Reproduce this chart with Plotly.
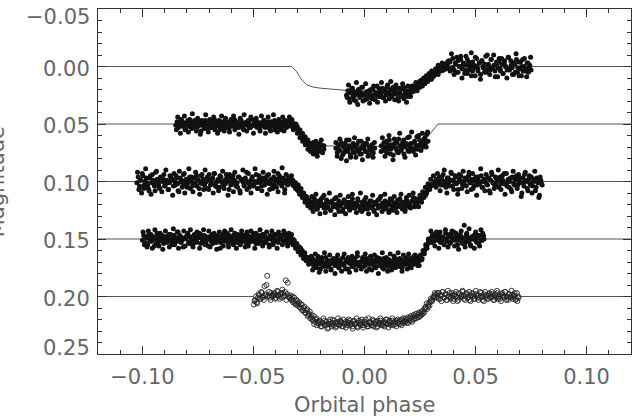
import numpy as np
import plotly.graph_objects as go

# ---------------- axis ticks ----------------
x_tick_vals = [-0.10, -0.05, 0.00, 0.05, 0.10]
x_tick_text = ["\u22120.10", "\u22120.05", "0.00", "0.05", "0.10"]
y_tick_vals = [-0.05, 0.00, 0.05, 0.10, 0.15, 0.20, 0.25]
y_tick_text = ["\u22120.05", "0.00", "0.05", "0.10", "0.15", "0.20", "0.25"]
x_range = [-0.12, 0.12]
y_range = [0.25, -0.05]

# ---------------- light curve 1 (offset 0.00), two runs ----------------
c1_phase_a = (-0.0081, 0.0750)
c1_mmag_a = [
    25, 21, 28, 23, 19, 26, 22, 30, 24, 20, 27, 23, 18, 25, 29, 22, 26, 21, 24, 28,
    20, 25, 23, 17, 26, 22, 24, 19, 27, 21, 25, 16, 23, 20, 26, 18, 22, 24, 19, 27,
    23, 20, 25, 18, 24, 22, 26, 21,
    23, 19, 21, 17, 20, 15, 18, 13, 16, 14, 11, 15, 9, 12, 10, 7, 11, 5, 8, 6,
    3, 7, 2, 4, 0, 3, -1, 2, -2,
    2, -4, 1, -7, 3, -2, 5, -5, 0, -9, 2, -3, 6, -1, -6, 3, -2, 8, -4, 1,
    -8, 0, 4, -3, 7, -5, 1, -2, 5, -10, 0, 3, -6, 2, -1, 9, -4, 1, -7, 4,
    -2, 6, -5, 0, 3, -8, 2, -1, 7, -3, 5, -6, 1, 8, -4, 0, 4, -7, 2, -3,
    5, -1, 3,
]
c1_phase_b = (-0.0078, 0.0748)
c1_mmag_b = [
    27, 16, 31, 22, 19, 29, 25, 14, 33, 21, 26, 18, 30, 24, 15, 28, 22, 32, 20, 25,
    17, 29, 23, 31, 19, 26, 14, 27, 22, 30, 18, 24, 28, 13, 25, 21, 29, 16, 23, 30,
    19, 26, 15, 28, 21, 31, 17, 24,
    26, 17, 22, 19, 14, 21, 16, 18, 12, 17, 10, 14, 8, 13, 6, 11, 4, 9, 7, 2,
    6, -1, 4, 1, -3, 3, -2, 1, -4,
    -5, 4, -11, 1, 7, -3, -8, 5, 0, -6, 10, -2, 3, -9, 6, -4, 1, -12, 4, -1,
    8, -7, 2, -3, 11, -5, 0, 5, -9, 3, -2, 7, -6, 1, -10, 4, -1, 9, -4, 2,
    -7, 6, -3, 0, 10, -8, 3, -5, 1, 7, -2, -11, 5, -4, 2, 8, -6, 0, 4, 9,
    -3, 1, -8,
]
c1_model_phase = [-0.12, -0.0328, -0.0306, -0.0283, -0.026, -0.0231, -0.0201, -0.0081,
                  0.005, 0.018, 0.024, 0.029, 0.034, 0.038, 0.12]
c1_model_mag = [0.0, 0.0, 0.0043, 0.0116, 0.0159, 0.0179, 0.0188, 0.0208,
                0.0215, 0.020, 0.014, 0.007, 0.002, 0.0, 0.0]

# ---------------- light curve 2 (offset 0.05), two runs ----------------
c2_phase_a = (-0.0850, 0.0286)
c2_mmag_a = [
    51, 48, 53, 50, 46, 52, 49, 55, 50, 47, 52, 49, 54, 51, 47, 50, 53, 48, 51, 56,
    49, 52, 47, 50, 54, 51, 48, 53, 50, 46, 52, 49, 51, 55, 48, 50, 53, 47, 51, 49,
    54, 50, 48, 52, 46, 51, 49, 53, 50, 47, 52, 55, 49, 51, 48, 50, 53, 46, 51, 49,
    52, 48, 50, 54, 49, 51, 47, 53, 50, 48, 52, 56, 49, 51, 47, 50, 53, 49, 51, 55,
    48, 51, 49, 53, 50,
    47, 49, 46, 51, 50, 54, 52, 57, 55, 60, 58, 63, 61, 66, 64, 69, 67,
    70, 66, 73, 68, 75, 71, 67, 74, 69, 72,
    None, None, None, None, None, None, None, None,
    71, 75, 68, 73, 66, 77, 70, 72, 64, 74, 69, 79, 71, 67, 75, 70, 73, 65, 72, 76,
    69, 71, 74, 67, 78, 70, 73, 68, 75, 71,
    None, None, None, None,
    69, 73, 66, 71, 75, 68, 64, 72, 70, 77, 67, 71, 74, 63, 69, 72, 66, 76, 70, 68,
    73, 61, 67, 71, 74, 65, 69, 72, 60, 68, 66, 70, 63, 67, 59, 65,
]
c2_phase_b = (-0.0847, 0.0284)
c2_mmag_b = [
    55, 44, 52, 58, 47, 50, 43, 54, 49, 57, 46, 52, 41, 53, 48, 56, 45, 51, 59, 47,
    50, 54, 42, 49, 57, 46, 53, 51, 44, 55, 48, 58, 47, 52, 43, 50, 56, 45, 53, 49,
    57, 46, 51, 43, 55, 48, 52, 59, 45, 50, 54, 42, 49, 56, 47, 53, 44, 51, 58, 48,
    45, 53, 49, 56, 43, 51, 47, 58, 50, 44, 54, 48, 52, 42, 55, 49, 57, 46, 50, 53,
    44, 56, 47, 52, 49,
    44, 52, 48, 55, 53, 50, 58, 56, 62, 59, 65, 62, 68, 65, 72, 70, 74,
    67, 76, 71, 65, 78, 70, 73, 64, 75, 69,
    None, None, None, None, None, None, None, None,
    66, 78, 72, 63, 80, 69, 75, 67, 82, 71, 64, 77, 70, 74, 62, 79, 68, 73, 76, 65,
    81, 70, 67, 74, 63, 77, 72, 69, 79, 66,
    None, None, None, None,
    74, 62, 70, 78, 65, 72, 60, 76, 68, 81, 63, 71, 66, 75, 58, 73, 69, 64, 79, 67,
    62, 74, 70, 57, 72, 66, 77, 61, 69, 64, 73, 58, 66, 62, 70, 57,
]
c2_model_phase = [-0.12, -0.0331, -0.0286, -0.026, -0.020, 0.0, 0.020, 0.026, 0.0286, 0.0331, 0.12]
c2_model_mag = [0.05, 0.05, 0.0608, 0.066, 0.069, 0.0695, 0.069, 0.066, 0.0608, 0.05, 0.05]

# ---------------- light curve 3 (offset 0.10), two runs ----------------
c3_phase_a = (-0.1025, 0.0800)
c3_mmag_a = [
    101, 96, 104, 99, 93, 106, 100, 97, 103, 108, 95, 101, 99, 104, 92, 98, 102, 106, 97, 100,
    94, 103, 99, 107, 101, 96, 98, 104, 100, 95, 102, 109, 97, 99, 103, 93, 101, 105, 98, 96,
    100, 104, 97, 102, 95, 99, 106, 101, 94, 98, 103, 100, 96, 107, 99, 102, 97, 93, 104, 100,
    98, 105, 96, 101, 103, 99, 94, 100, 107, 97, 102, 95, 99, 104, 101, 96, 108, 98, 100, 103,
    97, 92, 101, 105, 99, 96, 103, 100, 94, 106, 98, 101, 104, 97, 99, 102, 95, 100, 107, 98,
    103, 96, 100, 105, 93, 101, 98, 104, 97, 110, 99, 102, 96, 101,
    101, 103, 102, 106, 104, 108, 110, 109, 113, 112, 116, 114, 118, 117, 120,
    118, 122, 115, 120, 124, 117, 121, 119, 114, 123, 120, 116, 122, 118, 125, 119, 121, 115, 120, 123,
    117, 121, 119, 126, 116, 120, 122, 118, 124, 121, 115, 119, 123, 120, 117, 122, 125, 118, 121, 116,
    120, 124, 119, 122, 117, 121, 126, 118, 120, 123, 115, 121, 119, 124, 117, 122, 120, 118, 125, 116,
    121, 119, 123, 117, 120, 115, 122, 118, 121, 124, 116, 119, 120, 122, 117, 114, 119, 121, 116,
    117, 115, 118, 113, 111, 112, 108, 106, 107, 104, 102, 103, 100,
    98, 101, 96, 103, 99, 94, 100, 105, 97, 102, 99, 93, 104, 100, 96, 101, 107, 98, 95, 102,
    100, 97, 104, 99, 92, 101, 98, 106, 100, 96, 103, 99, 101, 95, 105, 98, 100, 102, 97, 108,
    99, 94, 101, 103, 97, 100, 105, 96, 102, 99, 93, 101, 104, 98, 100, 107, 96, 102, 99, 95,
    103, 100, 97, 110, 101, 94, 99, 106, 98, 102, 96, 104, 100, 108, 97, 101, 112, 99, 103,
]
c3_phase_b = (-0.1022, 0.0797)
c3_mmag_b = [
    92, 107, 99, 110, 95, 103, 89, 101, 106, 97, 111, 94, 102, 108, 91, 100, 105, 96, 109, 98,
    104, 90, 101, 107, 95, 99, 112, 93, 103, 97, 108, 91, 100, 105, 94, 110, 98, 102, 89, 106,
    96, 109, 101, 92, 104, 99, 111, 95, 102, 107, 90, 100, 106, 94, 103, 98, 110, 93, 101, 105,
    108, 95, 100, 91, 106, 102, 97, 112, 94, 103, 99, 109, 92, 101, 105, 96, 110, 98, 90, 104,
    99, 107, 93, 102, 110, 96, 104, 89, 101, 106, 95, 100, 108, 92, 103, 97, 111, 94, 102, 99,
    106, 91, 104, 98, 109, 95, 102, 88, 101, 107, 94, 103, 99, 96,
    95, 99, 104, 101, 107, 103, 111, 106, 114, 110, 118, 113, 121, 116, 123,
    113, 126, 119, 111, 124, 121, 128, 115, 120, 112, 127, 118, 123, 110, 125, 117, 122, 129, 114, 121,
    126, 112, 119, 124, 116, 128, 121, 113, 125, 118, 111, 123, 120, 127, 115, 122, 110, 126, 119, 124,
    114, 121, 128, 117, 123, 112, 125, 119, 129, 116, 122, 113, 126, 120, 111, 124, 118, 127, 115, 121,
    125, 113, 120, 127, 116, 122, 111, 124, 118, 126, 114, 121, 112, 123, 117, 110, 122, 115, 119,
    122, 112, 116, 109, 114, 105, 110, 102, 106, 98, 103, 95, 101,
    105, 93, 100, 108, 96, 103, 90, 101, 110, 97, 104, 92, 99, 107, 95, 102, 111, 94, 100, 106,
    91, 103, 98, 109, 95, 101, 107, 93, 104, 99, 112, 96, 102, 89, 105, 100, 108, 94, 103, 97,
    110, 92, 101, 106, 96, 104, 90, 99, 107, 95, 102, 111, 93, 100, 105, 97, 109, 91, 103, 98,
    106, 94, 101, 113, 97, 104, 92, 100, 108, 95, 103, 110, 98, 91, 105, 99, 114, 96, 102,
]
c3_model_phase = [-0.12, -0.033, -0.025, -0.020, 0.0, 0.020, 0.025, 0.032, 0.12]
c3_model_mag = [0.10, 0.10, 0.117, 0.119, 0.120, 0.119, 0.117, 0.10, 0.10]

# ---------------- light curve 4 (offset 0.15), two runs ----------------
c4_phase_a = (-0.1000, 0.0538)
c4_mmag_a = [
    151, 147, 153, 149, 155, 146, 150, 152, 148, 156, 150, 145, 153, 149, 151, 147, 154, 150, 148, 152,
    146, 151, 155, 149, 147, 153, 150, 144, 152, 148, 151, 157, 149, 150, 146, 153, 148, 151, 155, 147,
    150, 152, 148, 145, 154, 149, 151, 147, 153, 150, 156, 148, 152, 146, 150, 149, 153, 147, 151, 158,
    149, 146, 152, 150, 148, 154, 147, 151, 149, 155, 145, 150, 153, 148, 151, 146, 152, 149, 157, 150,
    147, 153, 150, 148, 145, 151, 154, 149, 147, 152, 150, 146, 153, 148, 151, 149, 155, 147, 150, 152,
    148, 151, 146, 153, 149, 150, 147, 152, 145, 150, 154, 148, 151,
    152, 150, 154, 157, 155, 159, 161, 158, 163, 165, 162, 167, 166, 170, 168,
    171, 167, 174, 169, 172, 165, 170, 176, 168, 173, 171, 166, 174, 169, 172, 177, 168, 170, 173, 167,
    171, 175, 169, 172, 166, 173, 170, 168, 176, 171, 169, 174, 167, 172, 170, 165, 173, 171, 175, 168,
    170, 173, 167, 171, 176, 169, 172, 168, 174, 170, 166, 173, 171, 169, 175, 167, 172, 170, 178, 168,
    171, 174, 169, 166, 172, 170, 173, 167, 171, 175, 168, 170, 172, 166, 169, 173, 167, 170, 165, 168,
    171, 166,
    169, 166, 167, 162, 160, 157, 155, 152, 151,
    149, 146, 152, 148, 144, 151, 147, 153, 149, 149, 150, 145, 152, 148, 154, 147, 150, 144, 151, 148,
    155, 149, 146, 152, 150, 138, 153, 145, 149, 151, 156, 148, 150, 146, 152, 149, 154, 147, 151, 145,
    150,
]
c4_phase_b = (-0.0997, 0.0536)
c4_mmag_b = [
    144, 155, 148, 157, 143, 152, 146, 158, 150, 142, 154, 147, 156, 145, 151, 159, 148, 143, 153, 149,
    157, 146, 152, 141, 155, 149, 144, 158, 147, 153, 150, 143, 156, 148, 145, 154, 142, 151, 157, 146,
    153, 144, 149, 158, 146, 152, 142, 155, 148, 150, 143, 157, 147, 154, 145, 151, 159, 149, 144, 153,
    148, 156, 143, 151, 145, 157, 150, 142, 154, 147, 152, 158, 146, 149, 155, 143, 150, 147, 153, 144,
    156, 149, 143, 152, 147, 158, 145, 151, 154, 142, 149, 156, 146, 153, 144, 150, 157, 148, 143, 155,
    146, 152, 158, 144, 150, 147, 155, 143, 151, 148, 156, 145, 153,
    146, 155, 151, 158, 154, 161, 157, 164, 160, 167, 163, 169, 166, 172, 169,
    165, 177, 170, 163, 175, 168, 179, 172, 166, 174, 162, 178, 169, 173, 164, 176, 171, 167, 180, 170,
    164, 175, 168, 178, 172, 163, 176, 169, 166, 179, 171, 165, 174, 168, 177, 162, 173, 170, 176, 166,
    174, 163, 178, 169, 172, 165, 177, 171, 164, 175, 168, 180, 167, 173, 162, 176, 170, 166, 174, 169,
    163, 177, 171, 165, 175, 168, 162, 174, 170, 178, 164, 172, 167, 176, 163, 171, 175, 166, 172, 164,
    169, 173,
    173, 164, 168, 160, 163, 155, 158, 150, 153,
    143, 153, 147, 156, 145, 150, 158, 144, 152, 148, 155, 142, 151, 157, 146, 153, 143, 149, 156, 145,
    151, 159, 147, 143, 154, 149, 157, 146, 152, 141, 155, 148, 150, 158, 144, 153, 147, 156, 142, 151,
    147,
]
c4_model_phase = [-0.12, -0.033, -0.025, -0.020, 0.0, 0.020, 0.025, 0.030, 0.12]
c4_model_mag = [0.15, 0.15, 0.167, 0.170, 0.171, 0.170, 0.167, 0.15, 0.15]

# ---------------- light curve 5 (offset 0.20, open symbols), two runs ----------------
c5_phase_a = (-0.0498, 0.0694)
c5_mmag_a = [
    207, 203, 205, 201, 199, 202, 197, 200, 191, 198, 182, 199, 201, 197, 200, 198, 202, 199, 196, 200,
    198, 201, 197, 199, 186, 198, 200,
    201, 203, 200, 204, 206, 203, 208, 205, 210, 207, 212, 209, 214, 211, 216, 213, 218, 220, 217, 222,
    219, 223,
    224, 222, 226, 223, 221, 225, 224, 227, 222, 224, 220, 225, 223, 226, 222, 224, 221, 223, 226, 224,
    222, 225, 223, 221, 224, 226, 222, 224, 223, 227, 221, 224, 222, 225, 223, 220, 224, 226, 222, 223,
    225, 221, 224, 222, 226, 223, 221, 224, 225, 222, 223, 220, 224, 222, 225, 221, 223, 224, 221, 223,
    222, 224, 220, 223, 221,
    222, 220, 223, 219, 221, 218, 220, 217, 219, 216, 218, 215,
    216, 213, 214, 210, 211, 207, 208, 204, 203, 201, 199, 198,
    200, 197, 202, 199, 196, 201, 198, 203, 200, 197, 201, 199, 202, 198, 200, 204, 197, 201, 199, 196,
    202, 200, 198, 201, 203, 199, 197, 200, 202, 198, 201, 199, 196, 200, 203, 198, 201, 199, 202, 197,
    200, 198, 203, 199, 201, 197, 200, 202, 198, 199, 201, 196, 200, 203, 198, 201, 199, 200, 197, 202,
    204, 201,
]
c5_phase_b = (-0.0495, 0.0692)
c5_mmag_b = [
    204, 200, 206, 198, 202, 196, 201, 203, 199, 190, 200, 196, 203, 199, 199, 197, 201, 195, 199, 202,
    197, 194, 200, 196, 203, 188, 201,
    199, 202, 205, 201, 207, 204, 206, 209, 207, 212, 210, 214, 212, 217, 215, 219, 216, 221, 224, 220,
    225, 222,
    221, 226, 223, 219, 225, 222, 228, 224, 220, 226, 223, 221, 227, 224, 219, 225, 222, 226, 220, 224,
    227, 222, 220, 225, 223, 228, 221, 224, 219, 226, 223, 225, 220, 227, 222, 224, 226, 219, 223, 225,
    220, 226, 222, 227, 221, 224, 219, 225, 223, 226, 220, 224, 227, 221, 223, 219, 225, 222, 226, 220,
    224, 221, 225, 219, 222,
    219, 223, 218, 221, 217, 222, 216, 219, 215, 218, 214, 217,
    213, 215, 211, 209, 206, 209, 205, 202, 204, 200, 197, 201,
    197, 202, 199, 204, 196, 201, 198, 203, 195, 200, 202, 197, 204, 199, 196, 201, 203, 198, 200, 195,
    199, 203, 197, 201, 196, 204, 200, 198, 202, 195, 199, 203, 201, 197, 200, 204, 196, 199, 202, 198,
    201, 196, 200, 203, 198, 195, 202, 199, 204, 197, 200, 196, 203, 201, 198, 200, 195, 202, 199, 203,
    197, 200,
]
c5_model_phase = [-0.12, -0.0498, None, 0.0694, 0.12]
c5_model_mag = [0.20, 0.20, None, 0.20, 0.20]

# ---------------- build figure ----------------
TEXT_FONT = dict(family="DejaVu Sans", size=21, color="#666666")
AXIS_COLOR = "#333333"
LINE_COLOR = "#555555"


def sample(span, mmag):
    ph = np.linspace(span[0], span[1], len(mmag))
    mag = [None if v is None else v / 1000.0 for v in mmag]
    return ph, mag


fig = go.Figure()

models = [
    (c1_model_phase, c1_model_mag),
    (c2_model_phase, c2_model_mag),
    (c3_model_phase, c3_model_mag),
    (c4_model_phase, c4_model_mag),
    (c5_model_phase, c5_model_mag),
]
for ph, mg in models:
    fig.add_trace(go.Scatter(x=ph, y=mg, mode="lines", connectgaps=False,
                             line=dict(color=LINE_COLOR, width=1), hoverinfo="skip",
                             showlegend=False))

filled = [
    (c1_phase_a, c1_mmag_a), (c1_phase_b, c1_mmag_b),
    (c2_phase_a, c2_mmag_a), (c2_phase_b, c2_mmag_b),
    (c3_phase_a, c3_mmag_a), (c3_phase_b, c3_mmag_b),
    (c4_phase_a, c4_mmag_a), (c4_phase_b, c4_mmag_b),
]
for span, mm in filled:
    ph, mg = sample(span, mm)
    fig.add_trace(go.Scatter(x=ph, y=mg, mode="markers",
                             marker=dict(symbol="circle", size=5, color="#111111",
                                         line=dict(width=0)),
                             showlegend=False))

for span, mm in [(c5_phase_a, c5_mmag_a), (c5_phase_b, c5_mmag_b)]:
    ph, mg = sample(span, mm)
    fig.add_trace(go.Scatter(x=ph, y=mg, mode="markers",
                             marker=dict(symbol="circle-open", size=5, color="#222222",
                                         line=dict(width=0.9)),
                             showlegend=False))

x_minor = [round(v, 3) for v in np.arange(-0.12, 0.1201, 0.01)]
y_minor = [round(v, 3) for v in np.arange(-0.05, 0.2501, 0.01)]

fig.update_xaxes(range=x_range, tickmode="array", tickvals=x_tick_vals, ticktext=x_tick_text,
                 ticks="inside", ticklen=8, tickwidth=1, tickcolor=AXIS_COLOR,
                 showline=True, linecolor=AXIS_COLOR, linewidth=1, mirror="allticks",
                 showgrid=False, zeroline=False, tickfont=TEXT_FONT,
                 ticklabelstandoff=4,
                 minor=dict(tickmode="array", tickvals=x_minor, ticks="inside", ticklen=4,
                            tickwidth=1, tickcolor=AXIS_COLOR, showgrid=False))
fig.update_yaxes(range=y_range, tickmode="array", tickvals=y_tick_vals, ticktext=y_tick_text,
                 ticks="inside", ticklen=8, tickwidth=1, tickcolor=AXIS_COLOR,
                 showline=True, linecolor=AXIS_COLOR, linewidth=1, mirror="allticks",
                 showgrid=False, zeroline=False, showticklabels=False,
                 minor=dict(tickmode="array", tickvals=y_minor, ticks="inside", ticklen=4,
                            tickwidth=1, tickcolor=AXIS_COLOR, showgrid=False))

annotations = []
for val, txt in zip(y_tick_vals, y_tick_text):
    if val == min(y_range):
        shift = -8
    elif val == max(y_range):
        shift = 6
    else:
        shift = -2
    annotations.append(dict(x=0, xref="paper", y=val, yref="y", text=txt, showarrow=False,
                            xanchor="right", yanchor="middle", xshift=-6, yshift=shift,
                            font=TEXT_FONT))
annotations.append(dict(x=0.5, xref="paper", y=-0.148, yref="paper", text="Orbital phase",
                        showarrow=False, xanchor="center", yanchor="middle", font=TEXT_FONT))
annotations.append(dict(x=-0.19, xref="paper", y=0.5, yref="paper", text="Magnitude",
                        showarrow=False, textangle=-90, xanchor="center", yanchor="middle",
                        font=TEXT_FONT))

fig.update_layout(width=641, height=418, margin=dict(l=98, r=10, t=9, b=64),
                  paper_bgcolor="white", plot_bgcolor="white", showlegend=False,
                  annotations=annotations)

fig.write_html("out.html")
